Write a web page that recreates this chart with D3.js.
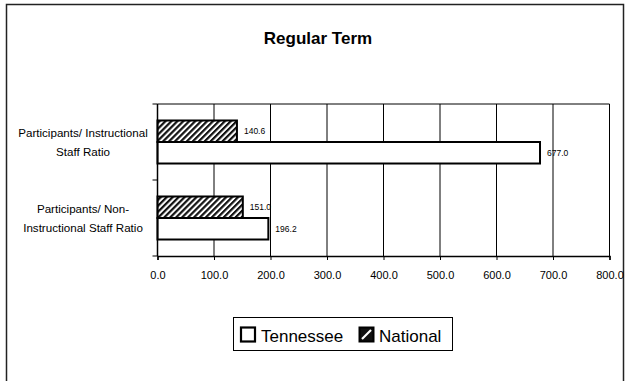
<!DOCTYPE html>
<html>
<head>
<meta charset="utf-8">
<script src="https://cdn.jsdelivr.net/npm/d3@7"></script>
<style>
  html, body { margin: 0; padding: 0; background: #fff; }
  svg text { font-family: Arial, "Liberation Sans", sans-serif; fill: #000; }
</style>
</head>
<body>
<svg id="chart" width="627" height="381"></svg>
<script>
// ---- data ----
const categories = [
  ["Participants/ Instructional", "Staff Ratio"],
  ["Participants/ Non-", "Instructional Staff Ratio"]
];
const categoryKeys = ["instr", "noninstr"];
const seriesNames = ["Tennessee", "National"];
const tennesseeValues = [677.0, 196.2];
const nationalValues = [140.6, 151.0];
const xTicks = [0, 100, 200, 300, 400, 500, 600, 700, 800];
const titleText = "Regular Term";

const svg = d3.select("#chart");

// pattern for hatched bars
const defs = svg.append("defs");
const pat = defs.append("pattern")
  .attr("id", "hatch")
  .attr("patternUnits", "userSpaceOnUse")
  .attr("width", 4.2).attr("height", 4.2)
  .attr("patternTransform", "rotate(45)");
pat.append("rect").attr("width", 4.2).attr("height", 4.2).attr("fill", "#fff");
pat.append("rect").attr("width", 2.2).attr("height", 4.2).attr("fill", "#111");

// outer frame
svg.append("rect")
  .attr("x", 6.5).attr("y", 4.5).attr("width", 617).attr("height", 390)
  .attr("fill", "none").attr("stroke", "#222").attr("stroke-width", 1.5);

// title
svg.append("text")
  .attr("x", 318).attr("y", 44)
  .attr("text-anchor", "middle")
  .attr("font-size", 17).attr("font-weight", "bold")
  .text(titleText);

// scales
const x = d3.scaleLinear().domain([0, 800]).range([157.5, 609.5]);
const y = d3.scaleBand().domain(categoryKeys).range([104, 256])
  .paddingInner(0.434).paddingOuter(0.217);
const inner = d3.scaleBand().domain(["National", "Tennessee"]).range([0, y.bandwidth()]);

// gridlines
svg.append("g").selectAll("line").data(xTicks.filter(d => d > 0)).join("line")
  .attr("x1", d => x(d)).attr("x2", d => x(d))
  .attr("y1", 104).attr("y2", 256)
  .attr("stroke", "#000").attr("stroke-width", 1);

// plot top border
svg.append("line").attr("x1", x(0)).attr("x2", x(800)).attr("y1", 104).attr("y2", 104)
  .attr("stroke", "#000").attr("stroke-width", 1);

// bars
const rows = categoryKeys.map((k, i) => ({ key: k, tn: tennesseeValues[i], nat: nationalValues[i] }));
const g = svg.append("g");
rows.forEach(r => {
  const y0 = y(r.key);
  // National
  g.append("rect")
    .attr("x", x(0)).attr("y", y0 + inner("National"))
    .attr("width", x(r.nat) - x(0)).attr("height", inner.bandwidth())
    .attr("fill", "url(#hatch)").attr("stroke", "#000").attr("stroke-width", 2);
  g.append("text")
    .attr("x", x(r.nat) + 7).attr("y", y0 + inner("National") + inner.bandwidth() / 2 + 3)
    .attr("font-size", 8.5).text(d3.format(".1f")(r.nat));
  // Tennessee
  g.append("rect")
    .attr("x", x(0)).attr("y", y0 + inner("Tennessee"))
    .attr("width", x(r.tn) - x(0)).attr("height", inner.bandwidth())
    .attr("fill", "#fff").attr("stroke", "#000").attr("stroke-width", 2);
  g.append("text")
    .attr("x", x(r.tn) + 7).attr("y", y0 + inner("Tennessee") + inner.bandwidth() / 2 + 3)
    .attr("font-size", 8.5).text(d3.format(".1f")(r.tn));
});

// x axis
const xAxis = svg.append("g").attr("transform", "translate(0,256)")
  .call(d3.axisBottom(x).tickValues(xTicks).tickFormat(d3.format(".1f")).tickSize(4).tickPadding(11));
xAxis.select(".domain").attr("stroke", "#000").attr("stroke-width", 1.5);
xAxis.selectAll(".tick line").attr("stroke", "#000").attr("stroke-width", 1);
xAxis.selectAll("text").attr("font-size", 11).attr("font-family", "Arial, 'Liberation Sans', sans-serif");

// y axis line and ticks at category boundaries
svg.append("line").attr("x1", x(0)).attr("x2", x(0)).attr("y1", 104).attr("y2", 256)
  .attr("stroke", "#000").attr("stroke-width", 1.5);
const bounds = [104, 180, 256];
svg.append("g").selectAll("line").data(bounds).join("line")
  .attr("x1", x(0) - 5).attr("x2", x(0)).attr("y1", d => d).attr("y2", d => d)
  .attr("stroke", "#000").attr("stroke-width", 1);

// category labels
categoryKeys.forEach((k, i) => {
  const cy = y(k) + y.bandwidth() / 2;
  const t = svg.append("text").attr("text-anchor", "middle").attr("font-size", 11.6);
  categories[i].forEach((line, j) => {
    t.append("tspan").attr("x", 83).attr("y", cy - 9.5 + j * 19 + 4.3).text(line);
  });
});

// legend
const lg = svg.append("g");
lg.append("rect").attr("x", 233.5).attr("y", 317.5).attr("width", 219).attr("height", 33)
  .attr("fill", "#fff").attr("stroke", "#000").attr("stroke-width", 1);
lg.append("rect").attr("x", 241).attr("y", 327.5).attr("width", 14).attr("height", 14)
  .attr("fill", "#fff").attr("stroke", "#000").attr("stroke-width", 2.2);
lg.append("text").attr("x", 261).attr("y", 341.5).attr("font-size", 17).text(seriesNames[0]);
lg.append("rect").attr("x", 359.5).attr("y", 327.5).attr("width", 14).attr("height", 14)
  .attr("fill", "#111").attr("stroke", "#000").attr("stroke-width", 2);
lg.append("line").attr("x1", 362).attr("y1", 339).attr("x2", 371).attr("y2", 330)
  .attr("stroke", "#fff").attr("stroke-width", 2.2);
lg.append("text").attr("x", 379).attr("y", 341.5).attr("font-size", 17).text(seriesNames[1]);
</script>
</body>
</html>
